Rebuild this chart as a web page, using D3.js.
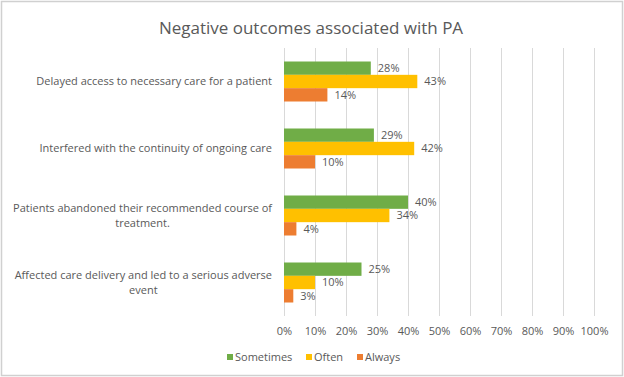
<!DOCTYPE html>
<html>
<head>
<meta charset="utf-8">
<script src="https://cdn.jsdelivr.net/npm/d3@7"></script>
<style>
  body { margin: 0; background: #fff; }
  text { font-family: "Open Sans", sans-serif; }
</style>
</head>
<body>
<div id="chart"></div>
<script>
const categories = [
  "Delayed access to necessary care for a patient",
  "Interfered with the continuity of ongoing care",
  "Patients abandoned their recommended course of treatment.",
  "Affected care delivery and led to a serious adverse event"
];
const seriesNames = ["Sometimes", "Often", "Always"];
const sometimes = [0.28, 0.29, 0.40, 0.25];
const often = [0.43, 0.42, 0.34, 0.10];
const always = [0.14, 0.10, 0.04, 0.03];
const colors = ["#70AD47", "#FFC000", "#ED7D31"];
const xTicks = [0, 0.1, 0.2, 0.3, 0.4, 0.5, 0.6, 0.7, 0.8, 0.9, 1.0];

// wrapped label lines (as shown in the chart)
const labelLines = [
  ["Delayed access to necessary care for a patient"],
  ["Interfered with the continuity of ongoing care"],
  ["Patients abandoned their recommended course of", "treatment."],
  ["Affected care delivery and led to a serious adverse", "event"]
];

const W = 624, H = 377;
const margin = {top: 48, right: 30, bottom: 61, left: 284};
const width = W - margin.left - margin.right,
      height = H - margin.top - margin.bottom;

const svg = d3.select("#chart").append("svg")
    .attr("width", W)
    .attr("height", H);

// outer frame
svg.append("rect")
    .attr("x", 1.5).attr("y", 1.5)
    .attr("width", W - 3).attr("height", H - 3)
    .attr("fill", "#fff")
    .attr("stroke", "#d0d0d0")
    .attr("stroke-width", 1.5);

// title
svg.append("text")
    .attr("x", 311)
    .attr("y", 34)
    .attr("text-anchor", "middle")
    .style("font-size", "17px")
    .style("fill", "#595959")
    .text("Negative outcomes associated with PA");

const g = svg.append("g")
    .attr("transform", `translate(${margin.left},${margin.top})`);

const x = d3.scaleLinear().domain([0, 1]).range([0, 310]);
const y0 = d3.scaleBand().domain(categories).range([0, height]);
const y1 = d3.scaleBand().domain(seriesNames).range([0, 40]).padding(0);

// gridlines
g.append("g")
  .selectAll("line")
  .data(xTicks)
  .join("line")
    .attr("x1", d => x(d) + 0.5)
    .attr("x2", d => x(d) + 0.5)
    .attr("y1", 0)
    .attr("y2", height)
    .attr("stroke", "#d9d9d9")
    .attr("stroke-width", 1);

// x axis labels
const xAxis = g.append("g")
    .attr("transform", `translate(0,${height})`)
    .call(d3.axisBottom(x).tickValues(xTicks).tickFormat(d3.format(".0%")).tickSize(0).tickPadding(11));
xAxis.select(".domain").remove();
xAxis.selectAll("text")
    .style("font-size", "11px")
    .style("fill", "#595959")
    .style("font-family", "Open Sans, sans-serif");

// category labels: block right-aligned, lines centred inside the block
const labelRight = -12;
const labels = g.append("g").selectAll("text")
  .data(categories)
  .join("text")
    .attr("text-anchor", "middle")
    .style("font-size", "11px")
    .style("fill", "#595959");

labels.each(function(d, i) {
  const lines = labelLines[i];
  const cy = y0(d) + y0.bandwidth() / 2;
  const lh = 15;
  const t = d3.select(this);
  const spans = lines.map((ln, j) => t.append("tspan")
      .attr("y", cy + (j - (lines.length - 1) / 2) * lh)
      .attr("dy", "0.35em")
      .text(ln));
  const maxW = d3.max(spans, s => s.node().getComputedTextLength());
  spans.forEach(s => s.attr("x", labelRight - maxW / 2));
});

// bars
const data = categories.map((c, i) => ({
  cat: c,
  values: [
    {key: "Sometimes", value: sometimes[i]},
    {key: "Often", value: often[i]},
    {key: "Always", value: always[i]}
  ]
}));

const groups = g.selectAll(".grp")
  .data(data)
  .join("g")
    .attr("class", "grp")
    .attr("transform", d => `translate(0,${y0(d.cat) + (y0.bandwidth() - 40) / 2})`);

groups.selectAll("rect")
  .data(d => d.values)
  .join("rect")
    .attr("x", 0)
    .attr("y", d => y1(d.key))
    .attr("width", d => x(d.value))
    .attr("height", y1.bandwidth())
    .attr("fill", (d, i) => colors[i]);

groups.selectAll(".lbl")
  .data(d => d.values)
  .join("text")
    .attr("class", "lbl")
    .attr("x", d => x(d.value) + 7)
    .attr("y", d => y1(d.key) + y1.bandwidth() / 2)
    .attr("dy", "0.35em")
    .style("font-size", "11px")
    .style("fill", "#595959")
    .text(d => d3.format(".0%")(d.value));

// legend
const legendX = [227, 306, 357];
const legend = svg.append("g").selectAll("g")
  .data(seriesNames)
  .join("g")
    .attr("transform", (d, i) => `translate(${legendX[i]},357)`);

legend.append("rect")
    .attr("x", 0).attr("y", -3)
    .attr("width", 6).attr("height", 6)
    .attr("fill", (d, i) => colors[i]);

legend.append("text")
    .attr("x", 8)
    .attr("y", 0)
    .attr("dy", "0.35em")
    .style("font-size", "11px")
    .style("fill", "#595959")
    .text(d => d);
</script>
</body>
</html>
